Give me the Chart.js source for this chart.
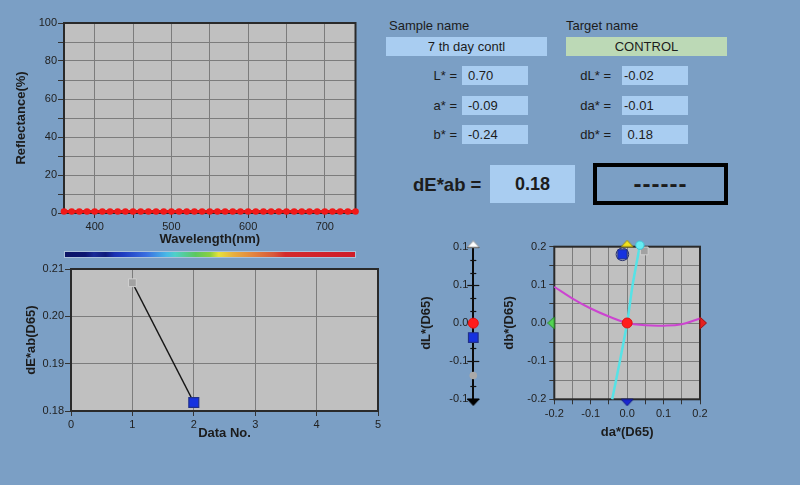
<!DOCTYPE html>
<html>
<head>
<meta charset="utf-8">
<script src="https://cdn.jsdelivr.net/npm/chart.js@4/dist/chart.umd.min.js"></script>
<style>
html,body{margin:0;padding:0;}
body{width:800px;height:485px;background:#7b9fc5;position:relative;overflow:hidden;font-family:"Liberation Sans",Arial,sans-serif;color:#1c1c1c;}
.cw{position:absolute;}
.cw canvas{display:block;}
.t{position:absolute;font-size:13px;line-height:16px;white-space:nowrap;}
.f{position:absolute;background:#a9cdf1;font-size:13px;height:19px;line-height:19px;white-space:nowrap;box-sizing:border-box;}
#spec{position:absolute;left:65px;top:252px;width:290px;height:5px;
 background:linear-gradient(to right,#0b1466 0%,#0d1670 7%,#1a2a96 10%,#0f1a7a 14%,#1a30b0 17%,#1e3cc0 20%,#3a6ee0 28%,#48b8e6 35%,#4fd0c8 38%,#5cc860 45%,#8ad040 50%,#e6e23c 53%,#e8b040 58%,#e48a3e 64%,#d8583a 72%,#d42a2c 76%,#d01c28 100%);
 box-shadow:0 0 0 1px rgba(210,220,235,0.55);}
</style>
</head>
<body>
<div class="cw" style="left:0;top:0;width:380px;height:250px"><canvas id="c1" width="380" height="250"></canvas></div>
<div id="spec"></div>
<div class="cw" style="left:0;top:255px;width:400px;height:190px"><canvas id="c2" width="400" height="190"></canvas></div>
<div class="cw" style="left:400px;top:230px;width:100px;height:190px"><canvas id="c3" width="100" height="190"></canvas></div>
<div class="cw" style="left:500px;top:230px;width:220px;height:215px"><canvas id="c4" width="220" height="215"></canvas></div>
<div id="panel"></div>
<script>
// ---------------- data ----------------
const wavelengths = [360,370,380,390,400,410,420,430,440,450,460,470,480,490,500,510,520,530,540,550,560,570,580,590,600,610,620,630,640,650,660,670,680,690,700,710,720,730,740];
const reflectance = [0.8,0.8,0.8,0.8,0.8,0.8,0.8,0.8,0.8,0.8,0.8,0.8,0.8,0.8,0.8,0.8,0.8,0.8,0.8,0.8,0.8,0.8,0.8,0.8,0.8,0.8,0.8,0.8,0.8,0.8,0.8,0.8,0.8,0.8,0.8,0.8,0.8,0.8,0.8];
const specXTicks = [400,450,500,550,600,650,700];
const specXLabels = ['400','','500','','600','','700'];
const specYTicks = [0,10,20,30,40,50,60,70,80,90,100];
const specYLabels = ['0','','20','','40','','60','','80','','100'];

const dataNo = [1,2];
const dEab = [0.2071,0.1818];
const dEXTicks = [0,1,2,3,4,5];
const dEXLabels = ['0','1','2','3','4','5'];
const dEYTicks = [0.18,0.19,0.20,0.21];
const dEYLabels = ['0.18','0.19','0.20','0.21'];

const dLTickValues = [-0.1,-0.05,0,0.05,0.1];
const dLTickLabels = ['-0.1','-0.1','0.0','0.1','0.1'];
const dLTarget = 0;
const dLSample = -0.019;
const dLPrevious = -0.069;
const dLLimits = [0.1,-0.1];

const abTicks = [-0.2,-0.15,-0.1,-0.05,0,0.05,0.1,0.15,0.2];
const abLabels = ['-0.2','','-0.1','','0.0','','0.1','','0.2'];
const chromaX = [-0.2,-0.15,-0.1,-0.05,0,0.05,0.1,0.15,0.2];
const chromaY = [0.095,0.064,0.038,0.017,0,-0.006,-0.007,-0.003,0.012];
const hueX = [-0.041,-0.02,0,0.015,0.035];
const hueY = [-0.2,-0.1,0,0.1,0.204];
const abTarget = [0,0];
const abSample = [-0.013,0.18];
const abPrevious = [0.047,0.189];
const abAxisX = [0,0,-0.2,0.2];
const abAxisY = [0.2,-0.2,0,0];

const sampleName = '7 th day contl';
const targetName = 'CONTROL';
const labLabels = ['L* =','a* =','b* ='];
const labValues = ['0.70','-0.09','-0.24'];
const dLabLabels = ['dL* =','da* =','db* ='];
const dLabValues = ['-0.02','-0.01','\u00a00.18'];
const dEValue = '0.18';
const verdict = '------';

// ---------------- text panel ----------------
const panel = document.getElementById('panel');
function add(cls, style, text){const d=document.createElement('div');d.className=cls;d.setAttribute('style',style);d.textContent=text;panel.appendChild(d);return d;}
add('t','left:389px;top:18px','Sample name');
add('f','left:386px;top:37px;width:161px;text-align:center',sampleName);
add('t','left:566px;top:18px','Target name');
add('f','left:566px;top:37px;width:161px;text-align:center;background:#bcd9b6',targetName);
const rowTops=[66,96,125];
labLabels.forEach((l,i)=>{
  add('t','left:400px;width:57px;text-align:right;top:'+(rowTops[i]+2)+'px',l);
  add('f','left:462px;width:66px;padding-left:6px;top:'+rowTops[i]+'px',labValues[i]);
});
dLabLabels.forEach((l,i)=>{
  add('t','left:550px;width:61px;text-align:right;top:'+(rowTops[i]+2)+'px',l);
  add('f','left:622px;width:66px;padding-left:2px;top:'+rowTops[i]+'px',dLabValues[i]);
});
add('t','left:413px;top:173px;font-size:18.5px;line-height:24px;font-weight:bold','dE*ab =');
add('f','left:490px;top:165px;width:85px;height:38px;line-height:38px;text-align:center;font-size:18px;font-weight:bold',dEValue);
add('t','left:593px;top:163px;width:135px;height:42px;line-height:34px;box-sizing:border-box;border:4px solid #000;text-align:center;font-size:24px;font-weight:bold;letter-spacing:1px',verdict);

// ---------------- chart helpers ----------------
Chart.defaults.font.family = '"Liberation Sans", Arial, sans-serif';
Chart.defaults.font.size = 11;
Chart.defaults.color = '#222';

const framePlugin = {
  id:'frame',
  beforeDraw(chart,args,opts){
    const {ctx,chartArea:a}=chart; ctx.save(); ctx.fillStyle=opts.bg; ctx.fillRect(a.left,a.top,a.width,a.height); ctx.restore();
  },
  beforeDatasetsDraw(chart,args,opts){
    const {ctx,chartArea:a}=chart; ctx.save(); ctx.strokeStyle=opts.border; ctx.lineWidth=2; ctx.strokeRect(a.left,a.top,a.width,a.height); ctx.restore();
  }
};
function fixedTicks(vals){return s=>{s.ticks=vals.map(v=>({value:v}));};}
function titleOpt(text,pad){return {display:true,text:text,color:'#1c1c1c',font:{size:13,weight:'bold'},padding:pad};}
const GRID='#7c7c7c', TICKC='#333';
function pts(xs,ys){return xs.map((x,i)=>({x:x,y:ys[i]}));}
const base = {responsive:false,animation:false,devicePixelRatio:1,events:[]};

function triImg(fill,stroke,dir){
  const c=document.createElement('canvas'); c.width=14; c.height=14;
  const g=c.getContext('2d'); g.beginPath();
  if(dir==='up'){g.moveTo(1,7);g.lineTo(13,7);g.lineTo(7,0.5);}
  else if(dir==='down'){g.moveTo(1,7);g.lineTo(13,7);g.lineTo(7,13.5);}
  else if(dir==='left'){g.moveTo(7,1);g.lineTo(7,13);g.lineTo(0.5,7);}
  else {g.moveTo(7,1);g.lineTo(7,13);g.lineTo(13.5,7);}
  g.closePath(); g.fillStyle=fill; g.fill(); g.strokeStyle=stroke; g.lineWidth=1; g.stroke();
  return c;
}

// ---------------- chart 1: reflectance ----------------
new Chart(document.getElementById('c1'),{
  type:'scatter',
  data:{datasets:[{data:pts(wavelengths,reflectance),showLine:true,borderColor:'#e41414',borderWidth:3,
    pointRadius:3.3,pointBackgroundColor:'#f01818',pointBorderWidth:0,clip:false}]},
  options:Object.assign({},base,{
    layout:{padding:{left:0,top:23,right:24.5,bottom:0}},
    plugins:{legend:{display:false},tooltip:{enabled:false},frame:{bg:'#c0c0c0',border:'#2a2a2a'}},
    scales:{
      x:{type:'linear',min:360,max:740,afterBuildTicks:fixedTicks(specXTicks),afterFit:s=>{s.height=37;},
        ticks:{autoSkip:false,maxRotation:0,padding:2,callback:(v,i)=>specXLabels[i]},
        grid:{color:GRID,tickColor:TICKC,tickLength:5},border:{display:false},
        title:titleOpt('Wavelength(nm)',{top:0,bottom:3})},
      y:{type:'linear',min:0,max:100,afterBuildTicks:fixedTicks(specYTicks),afterFit:s=>{s.width=64;},
        ticks:{autoSkip:false,padding:1,callback:(v,i)=>specYLabels[i]},
        grid:{color:GRID,tickColor:TICKC,tickLength:6},border:{display:false},
        title:titleOpt('Reflectance(%)',{top:14,bottom:0})}
    }
  }),
  plugins:[framePlugin]
});

// ---------------- chart 2: dE trend ----------------
new Chart(document.getElementById('c2'),{
  type:'scatter',
  data:{datasets:[{data:pts(dataNo,dEab),showLine:true,borderColor:'#151515',borderWidth:1.5,
    pointStyle:'rect',pointRadius:[5.5,7],pointBackgroundColor:['#a2a2a2','#1632e0'],pointBorderColor:['#cfcfcf','#20308a'],pointBorderWidth:[1,1.2],clip:false}]},
  options:Object.assign({},base,{
    layout:{padding:{left:0,top:14,right:22,bottom:0}},
    plugins:{legend:{display:false},tooltip:{enabled:false},frame:{bg:'#c0c0c0',border:'#2a2a2a'}},
    scales:{
      x:{type:'linear',min:0,max:5,afterBuildTicks:fixedTicks(dEXTicks),afterFit:s=>{s.height=34;},
        ticks:{autoSkip:false,maxRotation:0,padding:2,callback:(v,i)=>dEXLabels[i]},
        grid:{color:GRID,tickColor:TICKC,tickLength:5},border:{display:false},
        title:titleOpt('Data No.',{top:0,bottom:4})},
      y:{type:'linear',min:0.18,max:0.21,afterBuildTicks:fixedTicks(dEYTicks),afterFit:s=>{s.width=71;},
        ticks:{autoSkip:false,padding:1,callback:(v,i)=>dEYLabels[i]},
        grid:{color:GRID,tickColor:TICKC,tickLength:6},border:{display:false},
        title:titleOpt('dE*ab(D65)',{top:24,bottom:0})}
    }
  }),
  plugins:[framePlugin]
});

// ---------------- chart 3: dL* axis ----------------
const dLTickPlugin = {
  id:'dlticks',
  beforeDatasetsDraw(chart){
    const {ctx,chartArea:a}=chart; const ys=chart.scales.y;
    ctx.save(); ctx.strokeStyle='#111'; ctx.lineWidth=1.2;
    dLTickValues.forEach(v=>{if(v===dLTarget)return;const py=Math.round(ys.getPixelForValue(v))+0.5;ctx.beginPath();ctx.moveTo(a.left-6,py);ctx.lineTo(a.left+6,py);ctx.stroke();});
    for(let k=0;k<dLTickValues.length-1;k++){
      const p0=ys.getPixelForValue(dLTickValues[k]), p1=ys.getPixelForValue(dLTickValues[k+1]);
      [1/3,2/3].forEach(f=>{const py=Math.round(p0+(p1-p0)*f)+0.5;ctx.beginPath();ctx.moveTo(a.left-3,py);ctx.lineTo(a.left+3,py);ctx.stroke();});
    }
    ctx.restore();
  }
};
new Chart(document.getElementById('c3'),{
  type:'scatter',
  data:{datasets:[
    {order:0,data:[{x:0,y:dLTarget}],pointRadius:5,pointBackgroundColor:'#ff1c1c',pointBorderColor:'#e01010',pointBorderWidth:1,clip:false},
    {order:1,data:[{x:0,y:dLSample}],pointStyle:'rect',pointRadius:6.8,pointBackgroundColor:'#1632e0',pointBorderColor:'#20308a',pointBorderWidth:1.2,clip:false},
    {order:2,data:[{x:0,y:dLPrevious}],pointRadius:3.8,pointBackgroundColor:'#a9a9a9',pointBorderWidth:0,clip:false},
    {order:3,data:dLLimits.map(v=>({x:0,y:v})),pointStyle:[triImg('#ffffff','#9a9a9a','up'),triImg('#000000','#000000','down')],pointRadius:7,clip:false}
  ]},
  options:Object.assign({},base,{
    layout:{padding:{left:0,top:17.3,right:20,bottom:21}},
    plugins:{legend:{display:false},tooltip:{enabled:false}},
    scales:{
      x:{type:'linear',min:0,max:1,display:false},
      y:{type:'linear',position:'left',min:-0.1,max:0.1,afterBuildTicks:fixedTicks(dLTickValues),afterFit:s=>{s.width=73.3;},
        ticks:{autoSkip:false,padding:5,callback:(v,i)=>dLTickLabels[i]},
        grid:{drawOnChartArea:false,drawTicks:false},border:{display:true,color:'#0a0a0a',width:2},
        title:titleOpt('dL*(D65)',{top:19,bottom:0})}
    }
  }),
  plugins:[dLTickPlugin]
});

// ---------------- chart 4: a*b* plane ----------------
new Chart(document.getElementById('c4'),{
  type:'scatter',
  data:{datasets:[
    {order:0,data:[{x:abTarget[0],y:abTarget[1]}],pointRadius:5,pointBackgroundColor:'#ff1c1c',pointBorderColor:'#e01010',pointBorderWidth:1,clip:false},
    {order:1,data:[{x:hueX[hueX.length-1],y:hueY[hueY.length-1]}],pointRadius:4.2,pointBackgroundColor:'#66ecf2',pointBorderColor:'#40c4d4',pointBorderWidth:1,clip:false},
    {order:2,data:[{x:abSample[0],y:abSample[1]}],pointStyle:'rect',pointRadius:6.5,pointBackgroundColor:'#1632e0',pointBorderColor:'#20308a',pointBorderWidth:1,clip:false},
    {order:3,data:[{x:abSample[0],y:abSample[1]}],pointRadius:6.3,pointBackgroundColor:'rgba(0,0,0,0)',pointBorderColor:'#27306e',pointBorderWidth:1,clip:false},
    {order:4,data:[{x:abPrevious[0],y:abPrevious[1]}],pointStyle:'rect',pointRadius:5.5,pointBackgroundColor:'#a2a2a2',pointBorderColor:'#cfcfcf',pointBorderWidth:1,clip:false},
    {order:5,data:pts(abAxisX,abAxisY),pointStyle:[triImg('#f2e21c','#9a8c10','up'),triImg('#1a26d0','#101880','down'),triImg('#52d452','#2a8a2a','left'),triImg('#e42020','#a01010','right')],pointRadius:7,clip:false},
    {order:6,data:pts(hueX,hueY),showLine:true,tension:0.2,borderColor:'#56e2e6',borderWidth:2.5,pointRadius:0,clip:false},
    {order:7,data:pts(chromaX,chromaY),showLine:true,tension:0.4,borderColor:'#cc44d0',borderWidth:2,pointRadius:0,clip:false}
  ]},
  options:Object.assign({},base,{
    layout:{padding:{left:0,top:16.7,right:20,bottom:0}},
    plugins:{legend:{display:false},tooltip:{enabled:false},frame:{bg:'#c0c0c0',border:'#2a2a2a'}},
    scales:{
      x:{type:'linear',min:-0.2,max:0.2,afterBuildTicks:fixedTicks(abTicks),afterFit:s=>{s.height=45.7;},
        ticks:{autoSkip:false,maxRotation:0,padding:3,callback:(v,i)=>abLabels[i]},
        grid:{color:GRID,tickColor:TICKC,tickLength:5},border:{display:false},
        title:titleOpt('da*(D65)',{top:0,bottom:4.5})},
      y:{type:'linear',min:-0.2,max:0.2,afterBuildTicks:fixedTicks(abTicks),afterFit:s=>{s.width=54.3;},
        ticks:{autoSkip:false,padding:3,callback:(v,i)=>abLabels[i]},
        grid:{color:GRID,tickColor:TICKC,tickLength:5},border:{display:false},
        title:titleOpt('db*(D65)',{top:1.5,bottom:0})}
    }
  }),
  plugins:[framePlugin]
});
</script>
</body>
</html>
